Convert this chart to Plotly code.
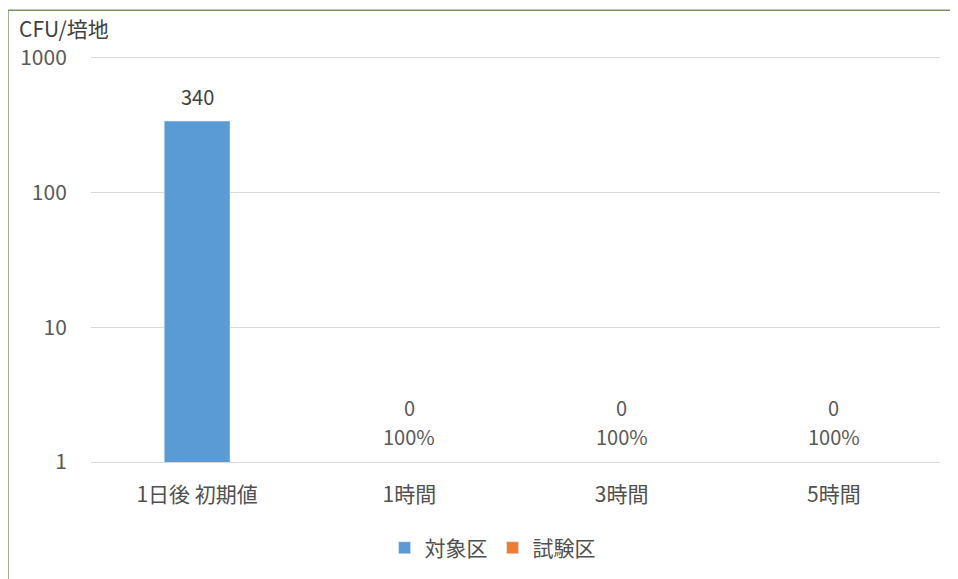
import math
import plotly.graph_objects as go

categories = ["1日後 初期値", "1時間", "3時間", "5時間"]
control_values = [340, None, None, None]      # 対象区
test_values = [None, 0, 0, 0]                  # 試験区
reduction_labels = ["", "100%", "100%", "100%"]
series_names = ["対象区", "試験区"]
y_ticks = [1, 10, 100, 1000]

FONT = "Noto Sans CJK JP"
TXT = "#595959"

fig = go.Figure()
fig.add_trace(go.Bar(x=categories, y=control_values, name=series_names[0],
                     marker_color="#5B9BD5", width=0.31))
fig.add_trace(go.Bar(x=categories, y=test_values, name=series_names[1],
                     marker_color="#ED7D31", width=0.31))

ann = []
for c, v in zip(categories, control_values):
    if v:
        ann.append(dict(x=c, y=math.log10(v), xref="x", yref="y", text=str(v),
                        showarrow=False, yanchor="bottom", yshift=8,
                        font=dict(family=FONT, size=20, color="#404040")))
for c, v, r in zip(categories, test_values, reduction_labels):
    if v is not None:
        ann.append(dict(x=c, y=0, xref="x", yref="y", text=str(v),
                        showarrow=False, yanchor="middle", yshift=55,
                        font=dict(family=FONT, size=20, color=TXT)))
        ann.append(dict(x=c, y=0, xref="x", yref="y", text=r,
                        showarrow=False, yanchor="middle", yshift=26,
                        font=dict(family=FONT, size=20, color=TXT)))
ann.append(dict(x=-0.0872, y=1.074, xref="paper", yref="paper", text="CFU/培地",
                showarrow=False, xanchor="left", yanchor="middle",
                font=dict(family=FONT, size=21, color="#404040")))

border = "#7f8f66"
shapes = [
    dict(type="line", xref="paper", yref="paper", x0=-0.0978, x1=1.03, y0=1.1185, y1=1.1185,
         line=dict(color=border, width=1.5)),
    dict(type="line", xref="paper", yref="paper", x0=-0.0978, x1=-0.0978, y0=-0.3, y1=1.1185,
         line=dict(color=border, width=1.5)),
]

fig.update_layout(
    width=950, height=571,
    margin=dict(l=83, r=18, t=50, b=116),
    paper_bgcolor="white", plot_bgcolor="white",
    barmode="overlay",
    showlegend=True,
    legend=dict(orientation="h", x=0.473, xanchor="center", y=-0.21, yanchor="middle",
                font=dict(family=FONT, size=21, color="#505050"), itemwidth=30),
    annotations=ann,
    shapes=shapes,
    font=dict(family=FONT, color=TXT),
)
fig.update_xaxes(showgrid=False, showline=True, linecolor="#d9d9d9", linewidth=1,
                 mirror=True, zeroline=False,
                 ticks="outside", ticklen=14, tickcolor="rgba(0,0,0,0)",
                 tickfont=dict(family=FONT, size=21, color="#505050"))
fig.update_yaxes(type="log", range=[0, 3], tickvals=y_ticks,
                 ticktext=[str(t) for t in y_ticks],
                 showgrid=True, gridcolor="#d9d9d9", gridwidth=1, zeroline=False,
                 showline=False, ticks="outside", ticklen=19, tickcolor="rgba(0,0,0,0)",
                 tickfont=dict(family=FONT, size=21, color=TXT))

fig.write_html("out.html")
